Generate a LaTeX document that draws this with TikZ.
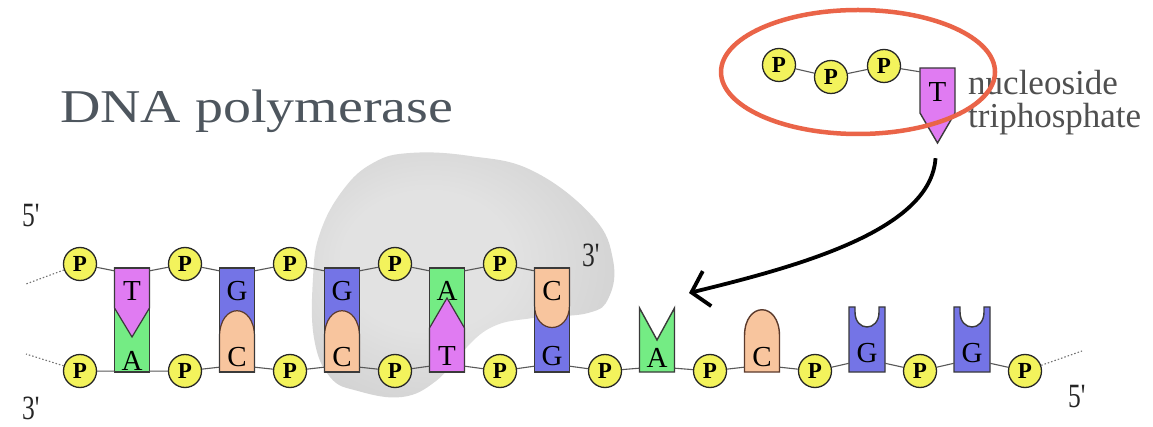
\documentclass[tikz,border=0pt]{standalone}
\usepackage{fontspec}
\setmainfont{Liberation Serif}
\newfontfamily\labelfont[FakeStretch=0.75]{Liberation Serif}
\newfontfamily\titlefont[FakeStretch=1.19]{Liberation Serif}
\usetikzlibrary{arrows.meta,shapes.geometric}

\definecolor{pyellow}{HTML}{F3F35C}
\definecolor{cT}{HTML}{E07BF2}
\definecolor{cA}{HTML}{74EC84}
\definecolor{cG}{HTML}{7474E6}
\definecolor{cC}{HTML}{F8C59E}
\definecolor{baseedge}{HTML}{3A3A3A}
\definecolor{cedge}{HTML}{5B3A2C}
\definecolor{ringred}{HTML}{EA6448}
\definecolor{titlegray}{HTML}{4E565E}
\definecolor{textgray}{HTML}{505050}
\definecolor{blobA}{HTML}{E2E2E2}
\definecolor{blobB}{HTML}{CDCDCD}
\definecolor{blobC}{HTML}{ABABAB}

% soft grey body of the polymerase, lightest towards the upper left
\pgfdeclareradialshading{polyshade}{\pgfpoint{-8bp}{4bp}}{%
  color(0bp)=(blobA); color(14bp)=(blobA); color(36bp)=(blobB); color(54bp)=(blobC)}

% base shapes, drawn around a column centre #1 (pixel-like units, y downwards)
\newcommand{\pairTA}[1]{%
  \begin{scope}[shift={(#1,0)}]
    \fill[cA] (-17.5,268) rectangle (17.5,372);
    \filldraw[fill=cT,draw=baseedge,line width=1.2pt] (-17.5,268) -- (17.5,268) -- (17.5,308) -- (0,337) -- (-17.5,308) -- cycle;
    \draw[baseedge,line width=1.4pt] (-17.5,268) rectangle (17.5,372);
  \end{scope}}
\newcommand{\pairAT}[1]{%
  \begin{scope}[shift={(#1,0)}]
    \fill[cA] (-17.5,268) rectangle (17.5,372);
    \filldraw[fill=cT,draw=baseedge,line width=1.2pt] (-17.5,372) -- (-17.5,328) -- (0,298) -- (17.5,328) -- (17.5,372) -- cycle;
    \draw[baseedge,line width=1.4pt] (-17.5,268) rectangle (17.5,372);
  \end{scope}}
\newcommand{\pairGC}[1]{%
  \begin{scope}[shift={(#1,0)}]
    \fill[cG] (-17.5,268) rectangle (17.5,372);
    \filldraw[fill=cC,draw=cedge,line width=1.2pt] (-17.5,372) -- (-17.5,337) .. controls (-17.5,302) and (17.5,302) .. (17.5,337) -- (17.5,372) -- cycle;
    \draw[baseedge,line width=1.4pt] (-17.5,268) rectangle (17.5,372);
  \end{scope}}
\newcommand{\pairCG}[1]{%
  \begin{scope}[shift={(#1,0)}]
    \fill[cG] (-17.5,268) rectangle (17.5,372);
    \filldraw[fill=cC,draw=cedge,line width=1.2pt] (-17.5,268) -- (17.5,268) -- (17.5,305) .. controls (17.5,335) and (-17.5,335) .. (-17.5,305) -- cycle;
    \draw[baseedge,line width=1.4pt] (-17.5,268) rectangle (17.5,372);
  \end{scope}}
\newcommand{\loneA}[1]{%
  \begin{scope}[shift={(#1,0)}]
    \filldraw[fill=cA,draw=baseedge,line width=1.4pt] (-17.5,372) -- (-17.5,308) -- (0,340) -- (17.5,308) -- (17.5,372) -- cycle;
  \end{scope}}
\newcommand{\loneC}[1]{%
  \begin{scope}[shift={(#1,0)}]
    \filldraw[fill=cC,draw=cedge,line width=1.4pt] (-17.5,372) -- (-17.5,336) .. controls (-17.5,301) and (17.5,301) .. (17.5,336) -- (17.5,372) -- cycle;
  \end{scope}}
\newcommand{\loneG}[1]{%
  \begin{scope}[shift={(#1,0)}]
    \filldraw[fill=cG,draw=baseedge,line width=1.4pt] (-18,372) -- (-18,307) -- (-12,307) -- (-12,312) .. controls (-12,332) and (12,332) .. (12,312) -- (12,307) -- (18,307) -- (18,372) -- cycle;
  \end{scope}}

\begin{document}
\begin{tikzpicture}[x=1pt,y=-1pt,
  pcirc/.style={circle,draw=black!85,line width=1.3pt,fill=pyellow,minimum size=33pt,inner sep=0pt,
    font=\bfseries\fontsize{23}{23}\selectfont},
  toplet/.style={minimum width=35pt,minimum height=40pt,inner sep=0pt,font=\fontsize{29}{29}\selectfont},
  botlet/.style={minimum width=35pt,minimum height=20pt,inner sep=0pt,font=\fontsize{29}{29}\selectfont},
  bb/.style={draw=black!65,line width=1.1pt},
  dashend/.style={draw=black!55,line width=1.1pt,dash pattern=on 1.5pt off 2pt},
  primelabel/.style={anchor=base west,inner sep=0pt,text=black!85,font=\labelfont\fontsize{34}{34}\selectfont},
  ring/.style={ellipse,draw=ringred,line width=4.5pt,minimum width=274pt,minimum height=124pt,inner sep=0pt},
  bigarrow/.style={draw=black,line width=3.8pt,-{Straight Barb[length=16pt,width=36pt]}}]

\useasboundingbox (0,0) rectangle (1153,427);
\fill[white] (0,0) rectangle (1153,427);

% polymerase body
\shade[shading=polyshade] plot[smooth cycle,tension=0.7] coordinates {
  (320,233) (343,190) (373,163) (410,153) (470,156) (533,171) (593,217) (613,260)
  (609,297) (588,313) (533,318) (492,327) (462,352) (436,381) (402,397) (358,391)
  (330,377) (314,338) (313,278)};

% paired bases
\pairTA{132}
\pairGC{237}
\pairGC{342}
\pairAT{447}
\pairCG{552}
% unpaired template bases
\loneA{657}
\loneC{762}
\loneG{867}
\loneG{972}
% incoming nucleotide base
\filldraw[fill=cT,draw=baseedge,line width=1.4pt] (920,68) -- (955,68) -- (955,113) -- (937.5,143) -- (920,113) -- cycle;

% base letters
\foreach \i/\b in {1/T,2/G,3/G,4/A,5/C}
  \node[toplet] (u\i) at ({132+105*(\i-1)},291) {\b};
\foreach \i/\b/\y in {1/A/361,2/C/357,3/C/357,4/T/356,5/G/356,6/A/358,7/C/357,8/G/353,9/G/353}
  \node[botlet] (d\i) at ({132+105*(\i-1)},\y) {\b};
\node[toplet] (ntT) at (937.5,92) {T};

% phosphates
\foreach \i in {1,...,5}
  \node[pcirc] (pt\i) at ({80+105*(\i-1)},264) {P};
\foreach \i in {1,...,10}
  \node[pcirc] (pb\i) at ({80+105*(\i-1)},371) {P};
\node[pcirc] (np1) at (779,65) {P};
\node[pcirc] (np2) at (831,77) {P};
\node[pcirc] (np3) at (884,66) {P};

% sugar-phosphate backbones
\foreach \i/\j in {1/2,2/3,3/4,4/5} {
  \draw[bb] (pt\i) -- (u\i.north west);
  \draw[bb] (u\i.north east) -- (pt\j);
}
\draw[bb] (pt5) -- (u5.north west);
\foreach \i/\j in {1/2,2/3,3/4,4/5,5/6,6/7,7/8,8/9,9/10} {
  \draw[bb] (pb\i) -- (d\i.south west);
  \draw[bb] (d\i.south east) -- (pb\j);
}
\draw[bb] (np1) -- (np2);
\draw[bb] (np2) -- (np3);
\draw[bb] (np3) -- (ntT.north west);

% strands continuing beyond the picture
\coordinate (topleft) at (26,284);
\coordinate (botleft) at (26,354);
\coordinate (botright) at (1082,351);
\draw[dashend] (pt1) -- (topleft);
\draw[dashend] (pb1) -- (botleft);
\draw[dashend] (pb10) -- (botright);

% labels
\node[anchor=base west,inner sep=0pt,text=titlegray,font=\titlefont\fontsize{47}{47}\selectfont] (title) at (60,123) {DNA polymerase};
\node[anchor=base west,inner sep=0pt,text=textgray,font=\fontsize{35}{35}\selectfont] (nucl) at (968,95) {nucleoside};
\node[anchor=base west,inner sep=0pt,text=textgray,font=\fontsize{35}{35}\selectfont] (triph) at (968,128) {triphosphate};
\node[primelabel] (fivetop) at (22,227) {5\textquotesingle};
\node[primelabel] (threebot) at (22,419) {3\textquotesingle};
\node[primelabel] (threeend) at (582,267) {3\textquotesingle};
\node[primelabel] (fivebot) at (1068,407) {5\textquotesingle};

% highlight around the triphosphate
\node[ring] (ring) at (858,72) {};

% insertion of the new nucleotide
\coordinate (insertsite) at (689,293);
\draw[bigarrow] ([xshift=-2pt,yshift=-46pt]ntT.south) .. controls (931,230) and (800,266) .. (insertsite);
\end{tikzpicture}
\end{document}
